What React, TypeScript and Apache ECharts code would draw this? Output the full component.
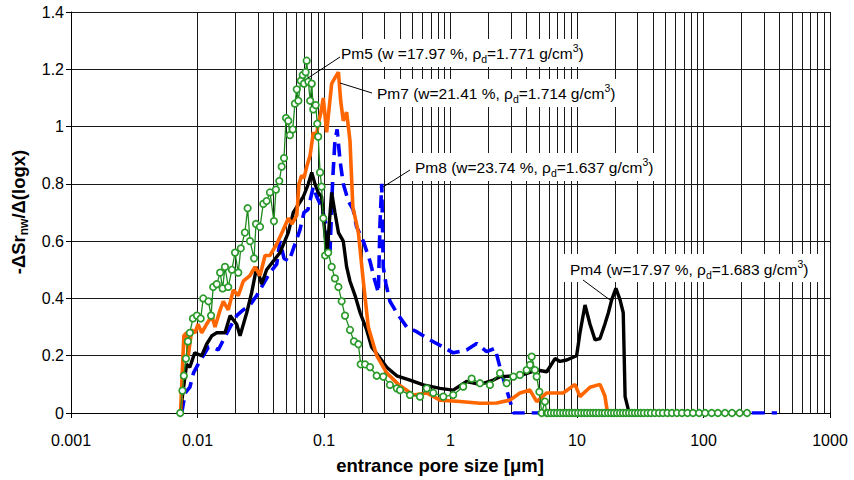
import React, { useEffect, useRef } from "react";
import * as echarts from "echarts";

const FONT = '"Liberation Sans", Arial, Helvetica, sans-serif';

const xTickLabels = ["0.001", "0.01", "0.1", "1", "10", "100", "1000"];
const minorMantissas = [2, 3, 4, 5, 6, 7, 8, 9];
const decades = [0.001, 0.01, 0.1, 1, 10, 100];

// Pm7 (w=21.41 %, rho_d=1.714) - orange
const pm7: number[][] = [
  [0.00734, 0], [0.0078, 0.27], [0.0082, 0.28], [0.00845, 0.2], [0.009, 0.29], [0.00954, 0.28],
  [0.0101, 0.31], [0.0108, 0.28], [0.0118, 0.31], [0.013, 0.34], [0.01375, 0.3], [0.0151, 0.36],
  [0.016, 0.39], [0.0175, 0.36], [0.0192, 0.43], [0.021, 0.41], [0.023, 0.46], [0.026, 0.48],
  [0.0285, 0.51], [0.0312, 0.48], [0.0342, 0.55], [0.0374, 0.55], [0.0423, 0.59], [0.0477, 0.64],
  [0.0522, 0.68], [0.0558, 0.66], [0.0609, 0.69], [0.0634, 0.8], [0.0666, 0.83], [0.0695, 0.82],
  [0.073, 0.86], [0.0777, 0.9], [0.0823, 0.98], [0.0866, 0.96], [0.09, 1.01], [0.0946, 1.05],
  [0.0987, 1.1], [0.105, 0.98], [0.1095, 1.06], [0.115, 1.15], [0.122, 1.17], [0.13, 1.19],
  [0.1355, 1.09], [0.142, 1.02], [0.151, 1.05], [0.1605, 0.95], [0.169, 0.72], [0.187, 0.63],
  [0.2045, 0.46], [0.224, 0.3], [0.261, 0.2], [0.313, 0.14], [0.387, 0.1], [0.509, 0.063],
  [0.649, 0.07], [0.826, 0.045], [1.19, 0.04], [1.71, 0.034], [2.32, 0.035], [2.95, 0.045],
  [3.54, 0.07], [4.25, 0.08], [4.8, 0.04], [5.77, 0.07], [7.79, 0.07], [9.64, 0.1],
  [10.56, 0.057], [12.67, 0.09], [15.2, 0.1], [16.6, 0.06], [17.3, 0.01], [18.2, 0], [213, 0],
];

// Pm4 (w=17.97 %, rho_d=1.683) - black
const pm4: number[][] = [
  [0.0073, 0], [0.0082, 0.17], [0.0087, 0.16], [0.0095, 0.21], [0.0108, 0.2], [0.0118, 0.24],
  [0.013, 0.27], [0.0142, 0.28], [0.0165, 0.28], [0.0181, 0.34], [0.0204, 0.31], [0.0217, 0.27],
  [0.0245, 0.35], [0.0268, 0.42], [0.0294, 0.51], [0.0321, 0.45], [0.0352, 0.5], [0.0397, 0.53],
  [0.0449, 0.56], [0.0522, 0.63], [0.0572, 0.7], [0.0686, 0.755], [0.0752, 0.8], [0.08, 0.84],
  [0.0848, 0.8], [0.09, 0.77], [0.0957, 0.755], [0.102, 0.62], [0.106, 0.56], [0.11, 0.66],
  [0.115, 0.77], [0.122, 0.7], [0.13, 0.63], [0.142, 0.6], [0.151, 0.51], [0.1605, 0.46],
  [0.176, 0.41], [0.193, 0.35], [0.2175, 0.29], [0.238, 0.23], [0.269, 0.2], [0.313, 0.16],
  [0.376, 0.13], [0.478, 0.115], [0.61, 0.098], [0.826, 0.086], [1.05, 0.08], [1.34, 0.11],
  [1.71, 0.1], [2.18, 0.115], [2.46, 0.127], [3.54, 0.13], [4.8, 0.15], [5.77, 0.144],
  [6.7, 0.19], [7.34, 0.18], [8.29, 0.185], [9.93, 0.2], [10.56, 0.28], [11.57, 0.377],
  [12.67, 0.31], [13.9, 0.255], [15.2, 0.26], [16.6, 0.31], [17.7, 0.35], [18.8, 0.395],
  [20.3, 0.435], [21.9, 0.395], [23.2, 0.35], [24.0, 0.057], [25.5, 0.01], [26, 0],
];

// Pm8 (w=23.74 %, rho_d=1.637) - blue dashed
const pm8: number[][] = [
  [0.0075, 0], [0.008, 0.07], [0.0087, 0.09], [0.0093, 0.14], [0.0101, 0.17], [0.0111, 0.2],
  [0.0122, 0.23], [0.0133, 0.23], [0.0146, 0.22], [0.016, 0.255], [0.0181, 0.3], [0.0204, 0.34],
  [0.023, 0.36], [0.026, 0.377], [0.0294, 0.41], [0.0331, 0.45], [0.0374, 0.49], [0.0423, 0.52],
  [0.0449, 0.6], [0.0483, 0.54], [0.0529, 0.53], [0.0579, 0.58], [0.0646, 0.64], [0.0695, 0.7],
  [0.0747, 0.71], [0.0823, 0.79], [0.0876, 0.755], [0.0957, 0.72], [0.105, 0.65], [0.1115, 0.56],
  [0.117, 0.81], [0.122, 0.95], [0.127, 0.99], [0.134, 0.88], [0.142, 0.8], [0.1557, 0.74],
  [0.17, 0.71], [0.181, 0.65], [0.2045, 0.6], [0.231, 0.53], [0.253, 0.46], [0.269, 0.42],
  [0.277, 0.66], [0.286, 0.8], [0.294, 0.51], [0.309, 0.45], [0.332, 0.39], [0.376, 0.35],
  [0.451, 0.3], [0.54, 0.284], [0.688, 0.255], [0.877, 0.23], [1.05, 0.21], [1.34, 0.22],
  [1.61, 0.243], [1.93, 0.214], [2.25, 0.226], [2.46, 0.16], [2.78, 0.08], [3.05, 0.022],
  [3.13, 0], [381, 0],
];

// Pm5 (w=17.97 %, rho_d=1.771) - green with circles
const pm5: number[][] = [
  [0.0073, 0], [0.0076, 0.078], [0.0078, 0.13], [0.0081, 0.19], [0.0084, 0.25], [0.0087, 0.28],
  [0.0092, 0.33], [0.0099, 0.34], [0.0106, 0.33], [0.0111, 0.4], [0.0122, 0.39], [0.0128, 0.34],
  [0.0133, 0.44], [0.0142, 0.45], [0.0151, 0.49], [0.0158, 0.435], [0.0165, 0.51], [0.0175, 0.44],
  [0.0187, 0.5], [0.0198, 0.56], [0.021, 0.49], [0.022, 0.575], [0.0237, 0.63], [0.0249, 0.715],
  [0.026, 0.6], [0.028, 0.54], [0.029, 0.66], [0.0312, 0.65], [0.0331, 0.73], [0.0352, 0.74],
  [0.0374, 0.77], [0.0402, 0.67], [0.0417, 0.78], [0.0443, 0.81], [0.0463, 0.86], [0.0483, 0.89],
  [0.0501, 1.03], [0.0522, 1.02], [0.0538, 0.97], [0.0566, 0.99], [0.0589, 1.08], [0.0609, 1.13],
  [0.0627, 1.09], [0.0655, 1.16], [0.0679, 1.18], [0.0695, 1.15], [0.0716, 1.19], [0.073, 1.23],
  [0.0752, 1.157], [0.0777, 1.09], [0.08, 1.15], [0.0823, 1.06], [0.086, 1.075], [0.0885, 1.01],
  [0.09, 0.965], [0.0931, 0.84], [0.0957, 0.79], [0.0987, 0.68], [0.102, 0.55], [0.108, 0.56],
  [0.115, 0.51], [0.122, 0.47], [0.13, 0.44], [0.138, 0.39], [0.1466, 0.34], [0.1605, 0.29],
  [0.1726, 0.25], [0.187, 0.24], [0.195, 0.17], [0.211, 0.17], [0.231, 0.16], [0.261, 0.13],
  [0.294, 0.127], [0.332, 0.098], [0.376, 0.086], [0.399, 0.08], [0.478, 0.063], [0.574, 0.057],
  [0.649, 0.086], [0.731, 0.07], [0.877, 0.057], [1.05, 0.063], [1.26, 0.092], [1.47, 0.12],
  [1.71, 0.104], [2.05, 0.098], [2.46, 0.139], [2.78, 0.104], [3.14, 0.127], [3.54, 0.133],
  [4.0, 0.15], [4.25, 0.168], [4.38, 0.197], [4.65, 0.15], [4.8, 0.127], [5.04, 0.074],
  [5.26, 0], [5.58, 0.04], [5.77, 0],
  [5.89, 0], [6.22, 0], [6.58, 0], [6.95, 0], [7.34, 0], [7.77, 0], [8.2, 0], [8.66, 0],
  [9.15, 0], [9.64, 0], [10.2, 0], [10.8, 0], [11.4, 0], [12.0, 0], [12.7, 0], [13.4, 0],
  [14.1, 0], [14.9, 0], [15.8, 0], [16.6, 0], [17.6, 0], [18.6, 0], [19.6, 0], [20.7, 0],
  [21.9, 0], [23.1, 0], [24.4, 0], [25.8, 0], [27.2, 0], [28.7, 0], [30.3, 0], [32.0, 0],
  [33.8, 0], [36.1, 0], [38.4, 0], [41.3, 0], [44.5, 0], [47.8, 0], [51.9, 0], [56.4, 0],
  [61.7, 0], [67.6, 0], [74.7, 0], [82.6, 0], [92.3, 0], [103, 0], [116, 0], [130, 0],
  [148, 0], [168, 0], [193, 0], [221, 0],
];

const GRID_COLOR = "#1a1a1a";

function annotation(
  label: string,
  w: string,
  rho: string,
  tx: number,
  ty: number,
  box: [number, number, number, number],
  lead: [number, number, number, number]
) {
  return [
    {
      type: "rect",
      z: 100,
      shape: { x: box[0], y: box[1], width: box[2], height: box[3] },
      style: { fill: "#ffffff", stroke: null },
    },
    {
      type: "line",
      z: 101,
      shape: { x1: lead[0], y1: lead[1], x2: lead[2], y2: lead[3] },
      style: { stroke: "#000", lineWidth: 1 },
    },
    {
      type: "text",
      z: 102,
      x: tx,
      y: ty,
      style: {
        text: `{n|${label} (${w}, ρ}{sub|d}{n|=${rho} g/cm}{sup|3}{n|)}`,
        align: "left",
        verticalAlign: "middle",
        fill: "#000",
        rich: {
          n: { fontSize: 15.5, fontFamily: FONT, fill: "#000", lineHeight: 22 },
          sub: { fontSize: 10.5, fontFamily: FONT, fill: "#000", lineHeight: 10, verticalAlign: "bottom" },
          sup: { fontSize: 10.5, fontFamily: FONT, fill: "#000", lineHeight: 10, verticalAlign: "top" },
        },
      },
    },
  ];
}

export default function App() {
  const ref = useRef<HTMLDivElement>(null);
  useEffect(() => {
    if (!ref.current) return;
    const chart = echarts.init(ref.current, undefined, { renderer: "svg" });
    const minorLines: any[] = [];
    decades.forEach((d) => minorMantissas.forEach((m) => minorLines.push({ xAxis: +(d * m).toPrecision(3) })));

    const option: any = {
      animation: false,
      backgroundColor: "#ffffff",
      grid: { left: 71, right: 24, top: 12, bottom: 67, containLabel: false },
      xAxis: {
        type: "log",
        logBase: 10,
        min: 0.001,
        max: 1000,
        splitNumber: 6,
        axisLine: { show: true, onZero: false, lineStyle: { color: "#000", width: 1 } },
        axisTick: { show: true, length: 5, lineStyle: { color: "#000", width: 1 } },
        axisLabel: {
          margin: 19,
          color: "#000",
          fontSize: 16,
          fontFamily: FONT,
          formatter: (v: number) => xTickLabels[Math.round(Math.log10(v)) + 3] ?? "",
        },
        splitLine: { show: true, lineStyle: { color: GRID_COLOR, width: 1 } },
      },
      yAxis: {
        type: "value",
        min: 0,
        max: 1.4,
        interval: 0.2,
        axisLine: { show: true, lineStyle: { color: "#000", width: 1 } },
        axisTick: { show: true, length: 5, lineStyle: { color: "#000", width: 1 } },
        axisLabel: { margin: 7, color: "#000", fontSize: 16, fontFamily: FONT },
        splitLine: { show: true, lineStyle: { color: GRID_COLOR, width: 1 } },
      },
      series: [
        {
          type: "line",
          name: "minor-grid",
          data: [],
          z: 1,
          silent: true,
          markLine: {
            silent: true,
            z: 1,
            symbol: ["none", "none"],
            label: { show: false },
            emphasis: { disabled: true },
            lineStyle: { color: GRID_COLOR, width: 1, type: "solid" },
            data: minorLines,
          },
        },
        {
          type: "line",
          name: "Pm8",
          data: pm8,
          z: 3,
          showSymbol: false,
          lineStyle: { color: "#0000ff", width: 3.6, type: [13, 7] },
          itemStyle: { color: "#0000ff" },
        },
        {
          type: "line",
          name: "Pm4",
          data: pm4,
          z: 4,
          showSymbol: false,
          lineStyle: { color: "#000000", width: 3.4 },
          itemStyle: { color: "#000000" },
        },
        {
          type: "line",
          name: "Pm7",
          data: pm7,
          z: 5,
          showSymbol: false,
          lineStyle: { color: "#ff6600", width: 3.6 },
          itemStyle: { color: "#ff6600" },
        },
        {
          type: "line",
          name: "Pm5",
          data: pm5,
          z: 6,
          showSymbol: true,
          showAllSymbol: true,
          symbol: "circle",
          symbolSize: 6.5,
          lineStyle: { color: "#1f8a1f", width: 1.3 },
          itemStyle: { color: "#ffffff", borderColor: "#2a9a2a", borderWidth: 1.7 },
        },
      ],
      graphic: [
        ...annotation("Pm5", "w =17.97 %", "1.771", 341, 53, [336, 39, 256, 28], [340, 57, 308, 78]),
        ...annotation("Pm7", "w=21.41 %", "1.714", 377, 93, [372, 79, 250, 28], [372, 93, 340, 83]),
        ...annotation("Pm8", "w=23.74 %", "1.637", 415, 167, [410, 153, 250, 28], [410, 170, 383, 187]),
        ...annotation("Pm4", "w=17.97 %", "1.683", 570, 269, [562, 254, 260, 28], [583, 280, 610, 300]),
        {
          type: "text",
          z: 110,
          x: 440,
          y: 465,
          style: {
            text: "entrance pore size [μm]",
            align: "center",
            verticalAlign: "middle",
            fill: "#000",
            fontSize: 18.5,
            fontWeight: "bold",
            fontFamily: FONT,
          },
        },
        {
          type: "text",
          z: 110,
          x: 18,
          y: 212,
          rotation: Math.PI / 2,
          style: {
            text: "{b|-ΔSr}{s|nw}{b|/Δ(logx)}",
            align: "center",
            verticalAlign: "middle",
            fill: "#000",
            rich: {
              b: { fontSize: 18.5, fontWeight: "bold", fontFamily: FONT, fill: "#000", lineHeight: 24 },
              s: { fontSize: 12, fontWeight: "bold", fontFamily: FONT, fill: "#000", lineHeight: 12, verticalAlign: "bottom" },
            },
          },
        },
      ],
    };
    chart.setOption(option);
    return () => chart.dispose();
  }, []);

  return (
    <div
      ref={ref}
      style={{ position: "absolute", left: 0, top: 0, width: "854px", height: "480px", background: "#fff" }}
    />
  );
}
